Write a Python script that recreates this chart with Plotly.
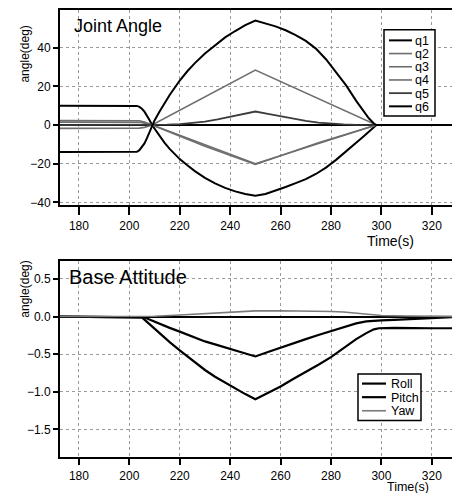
import plotly.graph_objects as go

W, H = 452, 497
FONT = "Liberation Sans, Arial, Helvetica, sans-serif"

# ---------------- Joint angles (deg) ----------------
q1_t = [172, 202, 203, 204, 205, 206, 207, 208, 209, 210, 212, 214, 216, 218, 220, 223, 226, 230, 234, 238,
        242, 246, 250, 254, 258, 262, 266, 270, 274, 278, 282, 286, 290, 293, 295, 297, 298, 330]
q1_y = [10, 10, 9.9, 9.4, 8.4, 6.9, 4.9, 2.6, 0, -1.9, -5.6, -9.2, -12.3, -15.1, -17.6, -20.8, -23.8, -27.3, -30.2, -32.5,
        -34.3, -35.6, -36.5, -35.6, -34.0, -32.0, -30.0, -28.0, -25.3, -22.0, -18.0, -13.7, -9.3, -5.8, -3.5, -1.2, 0, 0]

q2_t = [172, 202, 204, 206, 208, 209, 230, 250, 275, 298, 330]
q2_y = [2.3, 2.3, 2.2, 1.6, 0.6, 0, -10.2, -20.0, -9.6, 0, 0]

q3_t = [172, 202, 204, 206, 208, 209, 250, 298, 330]
q3_y = [-1.7, -1.7, -1.6, -1.2, -0.5, 0, 28.4, 0, 0]

q4_t = [172, 202, 204, 206, 208, 209, 230, 250, 275, 298, 330]
q4_y = [1.5, 1.5, 1.4, 1.0, 0.4, 0, -11.0, -20.4, -9.2, 0, 0]

q5_t = [172, 209, 215, 220, 225, 230, 235, 240, 245, 250, 255, 260, 265, 270, 275, 280, 285, 290, 298, 330]
q5_y = [0, 0, 0.2, 0.5, 1.0, 1.8, 2.9, 4.2, 5.6, 7.0, 5.8, 4.5, 3.2, 2.1, 1.3, 0.7, 0.3, 0.1, 0, 0]

q6_t = [172, 202, 203, 204, 205, 206, 207, 208, 209, 210, 212, 214, 216, 218, 220, 223, 226, 230, 234, 238,
        242, 246, 250, 254, 258, 262, 266, 270, 274, 278, 282, 286, 290, 293, 295, 297, 298, 330]
q6_y = [-14, -14, -13.8, -13.0, -11.5, -9.5, -6.8, -3.6, 0, 2.4, 7.0, 11.4, 15.5, 19.3, 23.0, 27.8, 32.0, 37.0, 41.3, 45.3,
        48.6, 51.6, 54.0, 52.5, 51.0, 49.0, 46.5, 43.5, 39.5, 34.0, 27.5, 20.5, 12.5, 7.0, 3.5, 0.8, 0, 0]

# ---------------- Base attitude (deg) ----------------
roll_t = [172, 204, 205, 206, 208, 210, 212, 216, 220, 225, 230, 234, 238, 242, 246, 250, 255, 260, 265, 270, 275,
          280, 285, 290, 294, 297, 299, 305, 320, 330]
roll_y = [0, 0, -0.01, -0.04, -0.10, -0.165, -0.23, -0.34, -0.45, -0.58, -0.71, -0.80, -0.88, -0.96, -1.03, -1.10,
          -1.02, -0.93, -0.83, -0.74, -0.64, -0.54, -0.42, -0.30, -0.22, -0.17, -0.155, -0.15, -0.155, -0.155]

pitch_t = [172, 205, 206, 208, 210, 213, 216, 220, 225, 230, 234, 238, 242, 246, 250, 255, 260, 265, 270, 275, 280,
           285, 290, 294, 297, 300, 305, 310, 315, 320, 325, 330]
pitch_y = [0, 0, -0.01, -0.04, -0.07, -0.11, -0.15, -0.20, -0.265, -0.33, -0.37, -0.41, -0.45, -0.49, -0.53, -0.47,
           -0.41, -0.355, -0.30, -0.245, -0.19, -0.14, -0.09, -0.065, -0.055, -0.05, -0.045, -0.035, -0.025, -0.015,
           -0.008, -0.005]

yaw_t = [172, 205, 210, 220, 230, 240, 250, 260, 270, 280, 285, 290, 295, 300, 310, 320, 330]
yaw_y = [0, 0, 0.005, 0.02, 0.035, 0.055, 0.075, 0.078, 0.075, 0.068, 0.06, 0.045, 0.028, 0.015, 0.008, 0.004, 0.002]

# names / styles
joint_names = ["q1", "q2", "q3", "q4", "q5", "q6"]
joint_series = [(q1_t, q1_y), (q2_t, q2_y), (q3_t, q3_y), (q4_t, q4_y), (q5_t, q5_y), (q6_t, q6_y)]
joint_styles = [
    dict(color="#000000", width=2),
    dict(color="#6e6e6e", width=1.6),
    dict(color="#6e6e6e", width=1.6),
    dict(color="#6e6e6e", width=1.6),
    dict(color="#3c3c3c", width=1.8),
    dict(color="#000000", width=2),
]
base_names = ["Roll", "Pitch", "Yaw"]
base_series = [(roll_t, roll_y), (pitch_t, pitch_y), (yaw_t, yaw_y)]
base_styles = [
    dict(color="#000000", width=2.2),
    dict(color="#000000", width=2.2),
    dict(color="#7a7a7a", width=1.6),
]

x_ticks = [180, 200, 220, 240, 260, 280, 300, 320]
y1_ticks = [-40, -20, 0, 20, 40]
y2_ticks = [-1.5, -1.0, -0.5, 0.0, 0.5]

fig = go.Figure()
for name, (t, y), st in zip(joint_names, joint_series, joint_styles):
    fig.add_trace(go.Scatter(x=t, y=y, mode="lines", name=name, line=st,
                             xaxis="x", yaxis="y", showlegend=False))
for name, (t, y), st in zip(base_names, base_series, base_styles):
    fig.add_trace(go.Scatter(x=t, y=y, mode="lines", name=name, line=st,
                             xaxis="x2", yaxis="y2", showlegend=False))


def px(x):
    return x / W


def py(y):
    return 1 - y / H


xdom = [px(60), 1.0]
common_x = dict(range=[172.5, 328], tickmode="array", tickvals=x_ticks,
                showline=True, linecolor="black", linewidth=2, mirror=True,
                ticks="outside", tickwidth=2, tickcolor="black",
                showgrid=True, gridcolor="#9a9a9a", griddash="dot", gridwidth=1,
                zeroline=False, tickfont=dict(family=FONT, size=12, color="black"))
common_y = dict(showline=True, linecolor="black", linewidth=2, mirror=False,
                ticks="outside", ticklen=5, tickwidth=1.5, tickcolor="black",
                showgrid=True, gridcolor="#9a9a9a", griddash="dot", gridwidth=1,
                zeroline=True, zerolinecolor="black", zerolinewidth=2,
                tickfont=dict(family=FONT, size=12, color="black"))

fig.update_layout(
    width=W, height=H, autosize=False,
    margin=dict(l=0, r=0, t=0, b=0),
    paper_bgcolor="white", plot_bgcolor="white",
    xaxis=dict(domain=xdom, anchor="y", ticklen=8, **common_x),
    yaxis=dict(domain=[py(207), py(10)], anchor="x", range=[-41.5, 59.5],
               tickmode="array", tickvals=y1_ticks, **common_y),
    xaxis2=dict(domain=xdom, anchor="y2", ticklen=6, **common_x),
    yaxis2=dict(domain=[py(461), py(263)], anchor="x2", range=[-1.87, 0.74],
                tickmode="array", tickvals=y2_ticks, tickformat=".1f", **common_y),
)

ann = []
# panel titles
ann.append(dict(text="Joint Angle", x=px(72), y=py(26), xanchor="left", yanchor="middle",
                font=dict(family=FONT, size=18, color="black")))
ann.append(dict(text="Base Attitude", x=px(67), y=py(279), xanchor="left", yanchor="middle",
                font=dict(family=FONT, size=20, color="black")))
# axis titles
for yc in (55, 292):
    ann.append(dict(text="angle(deg)", x=px(25), y=py(yc), textangle=-90,
                    xanchor="center", yanchor="middle",
                    font=dict(family=FONT, size=12, color="black")))
ann.append(dict(text="Time(s)", x=px(416), y=py(243), xanchor="right", yanchor="middle",
                font=dict(family=FONT, size=14, color="black")))
ann.append(dict(text="Time(s)", x=px(430), y=py(491), xanchor="right", yanchor="middle",
                height=12, borderpad=0, valign="middle",
                font=dict(family=FONT, size=12.5, color="black")))

shapes = []


def draw_legend(names, styles, box, row0, dy, sw_x0, sw_x1, txt_x, fsize):
    x0, y0, x1, y1 = box
    shapes.append(dict(type="rect", xref="paper", yref="paper",
                       x0=px(x0), x1=px(x1), y0=py(y1), y1=py(y0),
                       line=dict(color="black", width=1.5), fillcolor="white", layer="above"))
    for i, (nm, st) in enumerate(zip(names, styles)):
        yy = row0 + i * dy
        shapes.append(dict(type="line", xref="paper", yref="paper",
                           x0=px(sw_x0), x1=px(sw_x1), y0=py(yy), y1=py(yy),
                           line=dict(color=st["color"], width=st["width"]), layer="above"))
        ann.append(dict(text=nm, x=px(txt_x), y=py(yy), xanchor="left", yanchor="middle",
                        height=13, borderpad=0, valign="middle",
                        font=dict(family=FONT, size=fsize, color="black")))


draw_legend(joint_names, joint_styles, (384, 30, 435, 117), 40.7, 13.3, 389, 412, 414, 12.5)
draw_legend(base_names, base_styles, (358, 377, 421, 424), 386.7, 13.7, 362, 386, 390, 12.5)

for a in ann:
    a.update(xref="paper", yref="paper", showarrow=False)
fig.update_layout(annotations=ann, shapes=shapes)

fig.write_html("out.html")
